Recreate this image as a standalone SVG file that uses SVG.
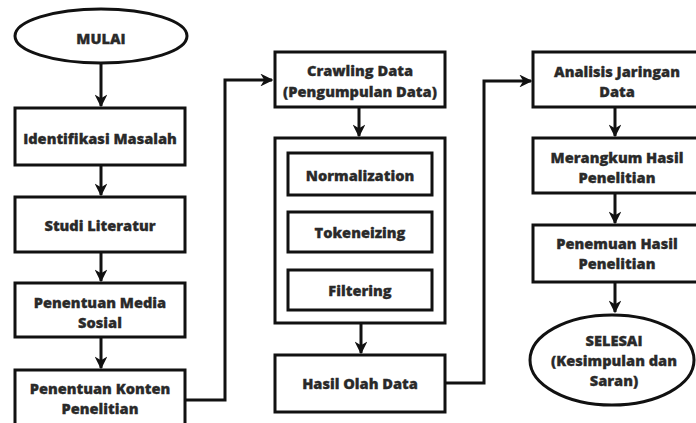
<svg xmlns="http://www.w3.org/2000/svg" width="696" height="423" viewBox="0 0 696 423">
<defs>
<style>
.n{fill:#fff;stroke:#111;stroke-width:3}
.t{font-family:"Open Sans","Liberation Sans",sans-serif;font-weight:800;font-size:14.6px;fill:#2a2a2a;text-anchor:middle;dominant-baseline:central;stroke:#2a2a2a;stroke-width:0.3}
.c{fill:none;stroke:#111;stroke-width:3}
</style>
<marker id="a" viewBox="0 0 10 10" refX="9" refY="5" markerWidth="4.3" markerHeight="4.3" orient="auto" markerUnits="strokeWidth">
<path d="M0,0 L10,5 L0,10 L3,5 Z" fill="#111"/>
</marker>
</defs>
<rect width="696" height="423" fill="#fff"/>
<g id="connectors">
<path class="c" d="M101,64 V106" marker-end="url(#a)"/>
<path class="c" d="M101,166 V195" marker-end="url(#a)"/>
<path class="c" d="M101,253 V281" marker-end="url(#a)"/>
<path class="c" d="M101,338 V368" marker-end="url(#a)"/>
<path class="c" d="M186,400 H225 V80 H272" marker-end="url(#a)"/>
<path class="c" d="M359,108 V136" marker-end="url(#a)"/>
<path class="c" d="M361,324 V353" marker-end="url(#a)"/>
<path class="c" d="M446,383 H484 V81 H531" marker-end="url(#a)"/>
<path class="c" d="M615,108 V136" marker-end="url(#a)"/>
<path class="c" d="M615,194 V223" marker-end="url(#a)"/>
<path class="c" d="M615,283 V312" marker-end="url(#a)"/>
</g>
<g id="mulai"><ellipse class="n" cx="101" cy="36" rx="86" ry="27"/><text class="t" x="101" y="38">MULAI</text></g>
<g id="identifikasi"><rect class="n" x="15" y="108" width="170" height="57"/><text class="t" x="100" y="138">Identifikasi Masalah</text></g>
<g id="studi"><rect class="n" x="15" y="197" width="170" height="55"/><text class="t" x="100" y="225">Studi Literatur</text></g>
<g id="media"><rect class="n" x="15" y="283" width="170" height="54"/><text class="t" x="100" y="302">Penentuan Media</text><text class="t" x="100" y="322">Sosial</text></g>
<g id="konten"><rect class="n" x="15" y="370" width="170" height="60"/><text class="t" x="100" y="388">Penentuan Konten</text><text class="t" x="100" y="408">Penelitian</text></g>
<g id="crawling"><rect class="n" x="275" y="52" width="170" height="55"/><text class="t" x="360" y="70">Crawling Data</text><text class="t" x="360" y="91">(Pengumpulan Data)</text></g>
<g id="proses"><rect class="n" x="275" y="138" width="170" height="185"/></g>
<g id="normalization"><rect class="n" x="288" y="153" width="144" height="42"/><text class="t" x="360" y="175">Normalization</text></g>
<g id="tokeneizing"><rect class="n" x="288" y="212" width="144" height="40"/><text class="t" x="360" y="232">Tokeneizing</text></g>
<g id="filtering"><rect class="n" x="288" y="270" width="144" height="40"/><text class="t" x="360" y="290">Filtering</text></g>
<g id="hasil"><rect class="n" x="275" y="355" width="170" height="57"/><text class="t" x="360" y="383">Hasil Olah Data</text></g>
<g id="analisis"><rect class="n" x="533" y="52" width="166" height="55"/><text class="t" x="617" y="71">Analisis Jaringan</text><text class="t" x="617" y="91">Data</text></g>
<g id="merangkum"><rect class="n" x="533" y="138" width="166" height="55"/><text class="t" x="617" y="157">Merangkum Hasil</text><text class="t" x="617" y="177">Penelitian</text></g>
<g id="penemuan"><rect class="n" x="533" y="225" width="166" height="57"/><text class="t" x="617" y="243">Penemuan Hasil</text><text class="t" x="617" y="263">Penelitian</text></g>
<g id="selesai"><ellipse class="n" cx="612" cy="360" rx="82" ry="45"/><text class="t" x="614" y="340">SELESAI</text><text class="t" x="614" y="360">(Kesimpulan dan</text><text class="t" x="614" y="380">Saran)</text></g>
</svg>
